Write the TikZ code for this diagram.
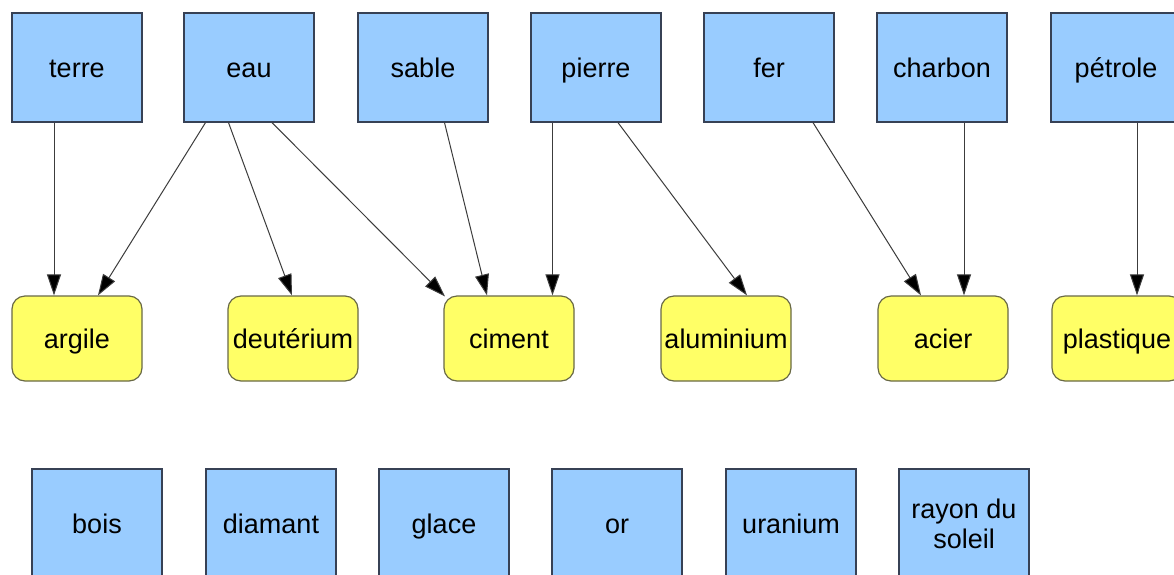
\documentclass[tikz,border=0pt]{standalone}
\usepackage{fontspec}
\setmainfont{Liberation Sans}
\usetikzlibrary{arrows.meta}
\definecolor{srcfill}{RGB}{153,204,255}
\definecolor{srcline}{RGB}{55,65,85}
\definecolor{prodfill}{RGB}{255,255,102}
\definecolor{prodline}{RGB}{105,105,70}
\definecolor{linkline}{RGB}{60,60,60}
\tikzset{
  labeltext/.style={font=\fontsize{27}{30}\selectfont, text height=22pt, text depth=3pt},
  matbox/.style={draw=srcline, fill=srcfill, line width=1.2pt,
    minimum width=130pt, minimum height=109pt, inner sep=0pt,
    align=center, labeltext},
  prodbox/.style={draw=prodline, fill=prodfill, line width=1.2pt,
    rounded corners=13pt, minimum width=130pt, minimum height=85pt,
    inner sep=0pt, align=center, labeltext},
  link/.style={draw=linkline, line width=1pt,
    -{Triangle[length=21pt,width=14pt,fill=black]}}
}
\begin{document}
\begin{tikzpicture}[x=1pt,y=-1pt]
  \useasboundingbox (0,0) rectangle (1174,574);
  \clip (0,0) rectangle (1174,574);
  \fill[white] (0,0) rectangle (1174,574);

  % raw materials, top row
  \node[matbox] (terre)   at (77,67.5)   {terre};
  \node[matbox] (eau)     at (249,67.5)  {eau};
  \node[matbox] (sable)   at (423,67.5)  {sable};
  \node[matbox] (pierre)  at (596,67.5)  {pierre};
  \node[matbox] (fer)     at (769,67.5)  {fer};
  \node[matbox] (charbon) at (942,67.5)  {charbon};
  \node[matbox] (petrole) at (1116,67.5) {pétrole};

  % products, middle row
  \node[prodbox] (argile)    at (77,338.5)   {argile};
  \node[prodbox] (deut)      at (293,338.5)  {deutérium};
  \node[prodbox] (ciment)    at (509,338.5)  {ciment};
  \node[prodbox] (alu)       at (726,338.5)  {aluminium};
  \node[prodbox] (acier)     at (943,338.5)  {acier};
  \node[prodbox] (plastique) at (1117,338.5) {plastique};

  % unused materials, bottom row
  \node[matbox] (bois)    at (97,523.5)  {bois};
  \node[matbox] (diamant) at (271,523.5) {diamant};
  \node[matbox] (glace)   at (444,523.5) {glace};
  \node[matbox] (or)      at (617,523.5) {or};
  \node[matbox] (uranium) at (791,523.5) {uranium};
  \node[matbox, text height=, text depth=] (rayon) at (964,523.5) {rayon du\\soleil};

  % links
  \draw[link] ([xshift=-23pt]terre.south)    -- ([xshift=-23pt]argile.north);
  \draw[link] ([xshift=-43.5pt]eau.south)    -- ([xshift=21pt]argile.north);
  \draw[link] ([xshift=-20.5pt]eau.south)    -- ([xshift=-1pt]deut.north);
  \draw[link] ([xshift=23pt]eau.south)       -- ([xshift=-64pt,yshift=-1pt]ciment.north);
  \draw[link] ([xshift=21.5pt]sable.south)   -- ([xshift=-22pt]ciment.north);
  \draw[link] ([xshift=-43.5pt]pierre.south) -- ([xshift=43.5pt]ciment.north);
  \draw[link] ([xshift=22pt]pierre.south)    -- ([xshift=21pt]alu.north);
  \draw[link] ([xshift=44pt]fer.south)       -- ([xshift=-22pt]acier.north);
  \draw[link] ([xshift=22pt]charbon.south)   -- ([xshift=21pt]acier.north);
  \draw[link] ([xshift=21pt]petrole.south)   -- ([xshift=20pt]plastique.north);
\end{tikzpicture}
\end{document}
